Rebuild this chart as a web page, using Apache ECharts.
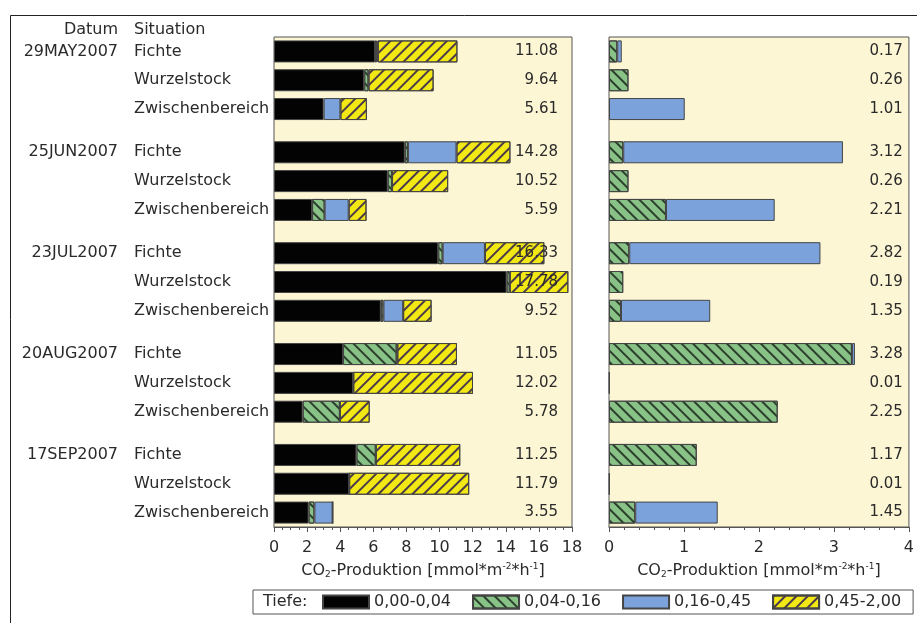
<!DOCTYPE html>
<html>
<head>
<meta charset="utf-8">
<script src="https://cdn.jsdelivr.net/npm/echarts@6/dist/echarts.min.js"></script>
<style>
  html, body { margin: 0; padding: 0; background: #fff; }
  #main { width: 917px; height: 623px; }
</style>
</head>
<body>
<div id="main"></div>
<script>
// categories
const dates = ['29MAY2007', '25JUN2007', '23JUL2007', '20AUG2007', '17SEP2007'];
const situations = ['Fichte', 'Wurzelstock', 'Zwischenbereich'];
const depthNames = ['0,00-0,04', '0,04-0,16', '0,16-0,45', '0,45-2,00'];

// CO2 production per depth layer, one value per row (date x situation)
const layer1 = [6.10, 5.45, 3.00, 7.90, 6.87, 2.30, 9.92, 14.05, 6.45, 4.17, 4.78, 1.73, 4.98, 4.53, 2.09];
const layer2 = [0.11, 0.26, 0.00, 0.19, 0.26, 0.76, 0.27, 0.19, 0.16, 3.24, 0.01, 2.25, 1.17, 0.01, 0.35];
const layer3 = [0.06, 0.00, 1.01, 2.93, 0.00, 1.45, 2.55, 0.00, 1.19, 0.04, 0.00, 0.00, 0.00, 0.00, 1.10];
const layer4 = [4.81, 3.93, 1.60, 3.26, 3.39, 1.08, 3.59, 3.54, 1.72, 3.60, 7.23, 1.80, 5.10, 7.25, 0.01];

// printed totals
const totalAll = [11.08, 9.64, 5.61, 14.28, 10.52, 5.59, 16.33, 17.78, 9.52, 11.05, 12.02, 5.78, 11.25, 11.79, 3.55];
const totalMid = [0.17, 0.26, 1.01, 3.12, 0.26, 2.21, 2.82, 0.19, 1.35, 3.28, 0.01, 2.25, 1.17, 0.01, 1.45];

// tick labels
const ticksLeft = [0, 2, 4, 6, 8, 10, 12, 14, 16, 18];
const ticksRight = [0, 1, 2, 3, 4];

const FONT = 'DejaVu Sans';
const TXT = '#2a2a2a';

// half-row slots: rows inside a group are 2 slots apart, groups 3 slots apart
const SLOTS = 35;
function slotOf(i) {
    return 1 + 7 * Math.floor(i / 3) + 2 * (i % 3);
}
function toSlots(arr) {
    const out = new Array(SLOTS).fill('-');
    arr.forEach((v, i) => { out[slotOf(i)] = v > 0 ? v : '-'; });
    return out;
}
const rowNames = new Array(SLOTS).fill('');
const rowDates = new Array(SLOTS).fill('');
for (let i = 0; i < 15; i++) {
    rowNames[slotOf(i)] = situations[i % 3];
    if (i % 3 === 0) rowDates[slotOf(i)] = dates[i / 3];
}
function totalsSlots(arr) {
    const out = new Array(SLOTS).fill('');
    arr.forEach((v, i) => { out[slotOf(i)] = v.toFixed(2); });
    return out;
}

const colors = ['#030303', '#88c286', '#7ca2dc', '#f2e814'];
const decals = [
    null,
    { symbol: 'rect', symbolSize: 1, dashArrayX: [1, 0], dashArrayY: [1.2, 6], rotation: Math.PI / 4, color: '#2c3f2c' },
    null,
    { symbol: 'rect', symbolSize: 1, dashArrayX: [1, 0], dashArrayY: [1.2, 6], rotation: -Math.PI / 4, color: '#4a3a4a' }
];
const layers = [layer1, layer2, layer3, layer4];

const axisName = '{n|CO}{sub|2}{n|-Produktion [mmol*m}{sup|-2}{n|*h}{sup|-1}{n|]}';
const nameRich = {
    n: { fontSize: 16, fontFamily: FONT, color: TXT },
    sub: { fontSize: 9, fontFamily: FONT, color: TXT, verticalAlign: 'bottom', padding: [8, 0, 0, 0] },
    sup: { fontSize: 9, fontFamily: FONT, color: TXT, verticalAlign: 'top', padding: [0, 0, 8, 0] }
};

function xAxisFor(grid, max, interval, minorSplit, ticks) {
    return {
        gridIndex: grid, type: 'value', position: 'bottom', min: 0, max: max, interval: interval,
        axisLine: { show: true, lineStyle: { color: '#555', width: 1 } },
        axisTick: { show: true, length: 5, lineStyle: { color: '#555' } },
        minorTick: { show: true, splitNumber: minorSplit, length: 3, lineStyle: { color: '#555' } },
        splitLine: { show: false },
        axisLabel: {
            fontSize: 16, fontFamily: FONT, color: TXT, margin: 13,
            formatter: v => ticks.indexOf(v) >= 0 ? String(v) : ''
        },
        name: axisName, nameLocation: 'middle', nameGap: 35,
        nameTextStyle: { rich: nameRich }
    };
}

function hiddenCat(grid, pos, data) {
    return {
        gridIndex: grid, position: pos, type: 'category', inverse: true, boundaryGap: false, data: data,
        axisLine: { show: false }, axisTick: { show: false }, splitLine: { show: false }
    };
}

const series = [];
layers.forEach((arr, k) => {
    const style = { color: colors[k], borderColor: '#444', borderWidth: 1 };
    if (decals[k]) style.decal = decals[k];
    series.push({
        name: depthNames[k], type: 'bar', stack: 'all', barWidth: 22,
        xAxisIndex: 0, yAxisIndex: 0, itemStyle: style, data: toSlots(arr)
    });
    if (k === 1 || k === 2) {
        series.push({
            name: depthNames[k], type: 'bar', stack: 'mid', barWidth: 22,
            xAxisIndex: 1, yAxisIndex: 3, itemStyle: style, data: toSlots(arr)
        });
    }
});

const titleStyle = { fontSize: 16, fontWeight: 'normal', fontFamily: FONT, color: TXT };
const labelStyle = { fontSize: 16, fontFamily: FONT, color: TXT };

const option = {
    animation: false,
    backgroundColor: '#fff',
    textStyle: { fontFamily: FONT, color: TXT },
    title: [
        { text: 'Datum', right: 917 - 118, top: 22, padding: 0, textStyle: titleStyle },
        { text: 'Situation', left: 134, top: 22, padding: 0, textStyle: titleStyle }
    ],
    graphic: [
        { type: 'rect', shape: { x: 10.5, y: 15.5, width: 940, height: 640 }, style: { fill: 'none', stroke: '#222', lineWidth: 1 }, silent: true },
        { type: 'text', left: 263, top: 594, style: { text: 'Tiefe:', fontSize: 16, fontFamily: FONT, fill: TXT } }
    ],
    legend: {
        left: 253, top: 590,
        padding: [4, 12, 4, 69],
        icon: 'rect',
        itemWidth: 46, itemHeight: 13, itemGap: 21,
        borderColor: '#555', borderWidth: 1,
        textStyle: { fontSize: 16, fontFamily: FONT, color: TXT },
        data: depthNames
    },
    grid: [
        { left: 274, right: 345, top: 37, bottom: 96, show: true, backgroundColor: '#fcf6d5', borderColor: '#555', borderWidth: 1 },
        { left: 609, right: 8, top: 37, bottom: 96, show: true, backgroundColor: '#fcf6d5', borderColor: '#555', borderWidth: 1 }
    ],
    xAxis: [
        xAxisFor(0, 18, 2, 4, ticksLeft),
        xAxisFor(1, 4, 1, 5, ticksRight)
    ],
    yAxis: [
        // situation column
        Object.assign(hiddenCat(0, 'left', rowNames), {
            axisLabel: Object.assign({ interval: 0, margin: 140, align: 'left' }, labelStyle)
        }),
        // date column
        Object.assign(hiddenCat(0, 'left', rowDates), {
            axisLabel: Object.assign({ interval: 0, margin: 156, align: 'right' }, labelStyle)
        }),
        // totals, left panel
        Object.assign(hiddenCat(0, 'right', totalsSlots(totalAll)), {
            z: 5,
            axisLabel: { interval: 0, inside: true, margin: 14, fontSize: 15, fontFamily: FONT, color: TXT }
        }),
        Object.assign(hiddenCat(1, 'left', rowNames), { axisLabel: { show: false } }),
        // totals, right panel
        Object.assign(hiddenCat(1, 'right', totalsSlots(totalMid)), {
            z: 5,
            axisLabel: { interval: 0, inside: true, margin: 6, fontSize: 15, fontFamily: FONT, color: TXT }
        })
    ],
    series: series
};

const chart = echarts.init(document.getElementById('main'));
chart.setOption(option);
</script>
</body>
</html>
